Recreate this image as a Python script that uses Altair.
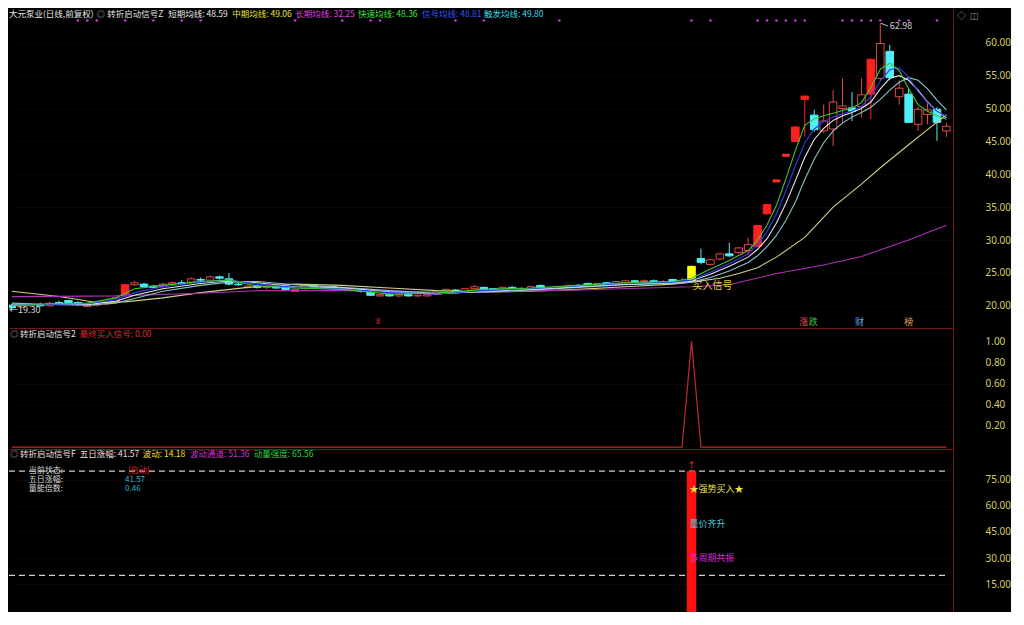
import altair as alt
import pandas as pd

FONT = "Noto Sans CJK SC"
NUMFONT = "Noto Sans"

# ---------------- data ----------------
idx = list(range(100))
opens = [20.1, 19.8, 20.0, 20.2, 20.0, 20.5, 20.8, 20.5, 19.9, 20.1,
         20.3, 20.6, 21.5, 23.2, 23.3, 23.0, 22.9, 23.3, 23.5, 23.6,
         24.0, 23.9, 24.4, 24.1, 23.3, 22.8, 23.0, 22.8, 22.9, 22.9,
         22.2, 22.6, 23.1, 22.8, 22.9, 22.6, 22.4, 22.5, 22.1, 21.5,
         21.7, 21.5, 21.7, 21.5, 21.5, 21.8, 22.2, 22.4, 22.1, 22.6,
         22.8, 22.6, 22.4, 22.8, 22.6, 22.4, 23.1, 22.6, 22.7, 22.8,
         23.1, 23.4, 23.1, 23.5, 23.4, 23.5, 23.8, 23.7, 23.8, 23.6,
         24.0, 23.5, 23.7, 27.2, 26.3, 27.1, 27.9, 28.1, 28.4, 29.0,
         34.0, 39.0, 42.9, 45.0, 51.4, 49.0, 46.6, 46.9, 50.0, 50.1,
         50.3, 52.2, 54.6, 58.7, 51.8, 52.2, 47.6, 49.1, 49.9, 46.6]
highs = [20.3, 20.2, 20.4, 20.5, 20.6, 20.8, 20.9, 20.7, 20.4, 20.5,
         20.7, 21.3, 23.3, 23.8, 23.5, 23.2, 23.5, 23.7, 23.9, 24.3,
         24.3, 24.6, 24.6, 25.0, 23.6, 23.1, 23.2, 23.0, 23.1, 23.0,
         22.6, 23.2, 23.2, 23.0, 23.0, 22.8, 22.7, 22.6, 22.2, 21.8,
         21.9, 21.8, 21.8, 21.7, 21.8, 22.3, 22.6, 22.5, 22.7, 23.2,
         22.9, 22.7, 22.9, 23.0, 22.8, 23.0, 23.2, 22.8, 23.0, 23.2,
         23.3, 23.5, 23.5, 23.6, 23.8, 23.9, 23.9, 24.0, 24.0, 23.9,
         24.1, 24.3, 26.1, 28.7, 27.1, 28.0, 29.6, 28.9, 30.4, 32.3,
         35.5, 39.0, 42.9, 47.3, 51.9, 49.8, 50.6, 52.8, 54.6, 52.5,
         54.6, 57.5, 62.98, 59.7, 54.3, 53.1, 50.3, 50.9, 50.2, 47.8]
lows = [19.3, 19.6, 19.8, 19.9, 19.9, 20.1, 20.3, 20.0, 19.8, 19.9,
        20.1, 20.5, 21.4, 23.0, 22.8, 22.7, 22.8, 23.1, 23.2, 23.5,
        23.7, 23.8, 24.0, 23.1, 23.0, 22.6, 22.6, 22.5, 22.6, 22.4,
        22.1, 22.5, 22.7, 22.6, 22.5, 22.3, 22.2, 22.0, 21.5, 21.4,
        21.4, 21.3, 21.4, 21.3, 21.4, 21.7, 22.1, 21.9, 22.0, 22.5,
        22.4, 22.3, 22.3, 22.5, 22.3, 22.3, 22.5, 22.4, 22.5, 22.7,
        22.8, 23.0, 23.0, 23.1, 23.3, 23.4, 23.6, 23.5, 23.5, 23.4,
        23.4, 23.4, 23.6, 26.3, 26.1, 26.9, 27.4, 27.9, 27.8, 28.9,
        33.9, 39.0, 42.9, 44.9, 45.7, 46.5, 46.3, 44.3, 47.9, 48.1,
        48.7, 48.4, 54.3, 54.3, 50.6, 47.8, 46.6, 47.6, 45.1, 45.7]
closes = [19.7, 20.0, 20.2, 20.0, 20.4, 20.3, 20.5, 20.2, 20.1, 20.3,
          20.6, 21.2, 23.2, 23.5, 22.9, 22.8, 23.3, 23.5, 23.4, 24.1,
          23.9, 24.4, 24.2, 23.3, 23.2, 23.0, 22.8, 22.9, 22.7, 22.5,
          22.5, 23.1, 22.8, 22.9, 22.6, 22.4, 22.5, 22.2, 21.6, 21.7,
          21.5, 21.7, 21.5, 21.6, 21.7, 22.2, 22.5, 22.0, 22.6, 22.9,
          22.5, 22.4, 22.8, 22.6, 22.5, 22.9, 22.6, 22.7, 22.9, 23.1,
          23.0, 23.1, 23.4, 23.2, 23.7, 23.8, 23.7, 23.8, 23.6, 23.7,
          23.5, 23.7, 26.0, 26.6, 27.0, 27.9, 27.6, 28.8, 29.3, 32.2,
          35.4, 39.0, 42.9, 47.2, 51.9, 46.8, 48.1, 51.0, 50.4, 49.6,
          52.1, 57.5, 59.9, 54.7, 53.1, 47.9, 49.9, 49.8, 47.9, 47.3]
solid_up = [12, 79, 80, 83, 84, 91]
signal_idx = 72

# moving-average lines (values read at key candles)
ma_idx = [0, 4, 8, 11, 13, 16, 20, 23, 26, 30, 35, 40, 45, 50, 55, 60, 65, 70,
          72, 74, 76, 78, 79, 80, 81, 82, 83, 84, 85, 86, 87, 88, 89, 90, 91,
          92, 93, 94, 95, 96, 97, 98, 99]
ma_fast = [20.0, 20.3, 20.4, 21.2, 22.6, 23.1, 23.7, 23.9, 23.0, 22.7, 22.5, 21.8,
           21.9, 22.5, 22.7, 23.1, 23.5, 23.7,
           24.2, 25.6, 26.9, 28.4, 30.0, 32.3, 35.3, 39.3, 43.6, 47.5, 48.4, 48.9,
           49.3, 49.7, 50.1, 50.9, 53.2, 56.0, 56.9, 55.8, 53.0, 50.6, 49.6, 48.9, 48.36]
ma_signal = [20.1, 20.2, 20.3, 20.9, 22.0, 22.9, 23.6, 23.9, 23.3, 22.8, 22.6, 22.0,
             21.8, 22.3, 22.6, 23.0, 23.4, 23.6,
             23.9, 25.1, 26.4, 27.9, 29.3, 31.3, 34.0, 37.5, 41.3, 44.8, 46.9, 48.0,
             48.7, 49.2, 49.6, 50.3, 51.8, 54.2, 55.9, 56.2, 54.8, 52.6, 50.9, 49.6, 48.81]
ma_short = [20.2, 20.2, 20.2, 20.7, 21.6, 22.6, 23.4, 23.8, 23.5, 22.9, 22.7, 22.1,
            21.8, 22.2, 22.5, 22.9, 23.3, 23.5,
            23.8, 24.8, 26.0, 27.4, 28.6, 30.2, 32.6, 35.6, 39.0, 42.6, 45.3, 47.0,
            48.2, 48.9, 49.4, 50.0, 51.0, 53.0, 54.6, 55.0, 54.3, 52.8, 51.0, 49.6, 48.59]
ma_trigger = [20.4, 20.2, 20.1, 20.4, 21.1, 22.2, 23.1, 23.6, 23.7, 23.2, 22.8, 22.3,
              21.9, 22.1, 22.4, 22.8, 23.2, 23.4,
              23.6, 24.3, 25.3, 26.6, 27.6, 29.0, 30.7, 33.0, 35.8, 39.2, 42.3, 44.8,
              46.6, 47.8, 48.7, 49.4, 50.2, 51.4, 52.8, 54.0, 54.7, 54.3, 53.0, 51.3, 49.80]
mid_idx = [0, 5, 9, 12, 16, 20, 25, 30, 35, 40, 45, 50, 55, 60, 65, 70, 72, 75, 77,
           79, 81, 84, 87, 90, 92, 95, 97, 99]
ma_mid = [22.2, 21.4, 20.5, 20.6, 21.2, 22.0, 22.8, 23.3, 23.1, 22.7, 22.3, 22.1, 22.2,
          22.5, 22.9, 23.3, 23.6, 24.2, 24.9, 25.8, 27.4, 30.4, 35.0, 38.5, 41.0, 44.5,
          46.8, 49.06]
long_idx = [0, 11, 20, 26, 35, 45, 50, 60, 72, 76, 81, 86, 90, 95, 99]
ma_long = [21.4, 21.5, 21.9, 22.3, 22.3, 22.1, 22.1, 22.4, 22.9, 23.2, 24.9, 26.2,
           27.5, 30.0, 32.25]

top_dots = [7, 8, 9, 12, 15, 18, 20, 30, 35, 38, 39, 47, 50, 58, 72, 74, 79, 80, 81,
            82, 83, 84, 88, 89, 90, 91, 92, 94, 95, 98]

final_signal = [0] * 72 + [1] + [0] * 27
strength_idx = [72]
strength_val = [80]
band_levels = [80, 20]

# ---------------- frames ----------------
def kind_of(i):
    if i == signal_idx:
        return "signal"
    if highs[i] == lows[i]:
        return "flat"
    if closes[i] < opens[i]:
        return "down"
    if i in solid_up:
        return "upsolid"
    return "up"

cdf = pd.DataFrame({"idx": idx, "open": opens, "high": highs, "low": lows,
                    "close": closes})
cdf["kind"] = [kind_of(i) for i in idx]

ma_specs = [("中期", mid_idx, ma_mid, "#cfcf8a"),
            ("长期", long_idx, ma_long, "#b030b8"),
            ("触发", ma_idx, ma_trigger, "#88c4cc"),
            ("短期", ma_idx, ma_short, "#e6e6e6"),
            ("信号", ma_idx, ma_signal, "#2c3cf0"),
            ("快速", ma_idx, ma_fast, "#3cc83c")]

# ---------------- styling ----------------
DR = "#7a1414"
LBL = "#d6cc68"
W = 944
H_MAIN, H_MID, H_BOT = 320, 121, 163

xscale = alt.Scale(domain=[-0.3, 99.7], nice=False, zero=False)
x_axis_sep = alt.Axis(domain=True, domainColor=DR, domainWidth=1, labels=False,
                      ticks=False, grid=False, title=None)

def make_X(field, show):
    return alt.X(field, type="quantitative", scale=xscale,
                 axis=x_axis_sep if show else None)

def y_axis(values, fmt=".2f"):
    return alt.Axis(orient="right", values=values, format=fmt, ticks=False,
                    domain=True, domainColor=DR, domainWidth=1, labelPadding=32,
                    grid=True, gridColor="#3a1212", gridDash=[1, 3], gridWidth=1,
                    labelColor=LBL, labelFont=NUMFONT, labelFontSize=10, title=None)

one = pd.DataFrame({"k": [0]})

def txt(s, px, py, color, size=8.5, align="left"):
    return alt.Chart(one).mark_text(text=s, align=align, baseline="middle",
                                    color=color, fontSize=size, font=FONT).encode(
        x=alt.value(px), y=alt.value(py))

S = W / 960.0

# ---------------- main panel ----------------
ym_scale = alt.Scale(domain=[16.62, 65.3], nice=False, zero=False)
ym_axis = y_axis([20, 25, 30, 35, 40, 45, 50, 55, 60])

def YM(field):
    return alt.Y(field, type="quantitative", scale=ym_scale, axis=ym_axis)

kinds = ["up", "upsolid", "down", "signal", "flat"]
wick_scale = alt.Scale(domain=kinds, range=["#e04848", "#ff2020", "#50eef8", "#ffff00", "#ff3030"])
fill_scale = alt.Scale(domain=kinds, range=["#000000", "#ff2020", "#50eef8", "#ffff00", "#ff3030"])
stroke_scale = alt.Scale(domain=kinds, range=["#e04848", "#ff2020", "#50eef8", "#ffff00", "#ff3030"])

base_c = alt.Chart(cdf)
wicks = base_c.mark_rule(strokeWidth=1, clip=True).encode(
    x=make_X("idx", True), y=YM("low"), y2="high",
    color=alt.Color("kind:N", scale=wick_scale, legend=None))
bodies = base_c.transform_filter("datum.kind != 'flat'").transform_calculate(
    x0="datum.idx - 0.4", x1="datum.idx + 0.4").mark_bar(strokeWidth=1, clip=True).encode(
    x=make_X("x0", True), x2="x1:Q", y=YM("open"), y2="close:Q",
    fill=alt.Fill("kind:N", scale=fill_scale, legend=None),
    stroke=alt.Stroke("kind:N", scale=stroke_scale, legend=None))
flats = base_c.transform_filter("datum.kind == 'flat'").transform_calculate(
    x0="datum.idx - 0.4", x1="datum.idx + 0.4").mark_rule(strokeWidth=3, clip=True).encode(
    x=make_X("x0", True), x2="x1:Q", y=YM("close"),
    color=alt.Color("kind:N", scale=wick_scale, legend=None))

ma_layers = []
for name, xs, vs, col in ma_specs:
    ma_layers.append(
        alt.Chart(pd.DataFrame({"idx": xs, "value": vs})).mark_line(
            strokeWidth=1.1, clip=True, color=col).encode(
            x=make_X("idx", True), y=YM("value")))

dots = alt.Chart(pd.DataFrame({"idx": top_dots})).mark_circle(
    size=7, color="#c040d0", opacity=1).encode(x=make_X("idx", True), y=alt.value(12.5))

def dtext(s, xi, yv, color, size=9, align="left"):
    return alt.Chart(pd.DataFrame({"idx": [xi], "v": [yv]})).mark_text(
        text=s, align=align, baseline="middle", color=color, fontSize=size,
        font=FONT).encode(x=make_X("idx", True), y=YM("v"))

peak_hook = alt.Chart(pd.DataFrame({"a": [92.05], "b": [92.8], "ya": [62.98], "yb": [62.55]})).mark_rule(
    color="#c8c8c8", strokeWidth=1).encode(x=make_X("a", True), x2="b:Q", y=YM("ya"), y2="yb:Q")

main_layers = [wicks, bodies, flats] + ma_layers + [dots, peak_hook,
               dtext("←19.30", -0.3, 19.3, "#d8d8d8", 9),
               dtext("62.98", 93.0, 62.5, "#d0d0d0", 9),
               dtext("买入信号", 72.1, 23.05, "#e8cf50", 10),
               dtext("8", 38.8, 17.5, "#e03030", 8, "center"),
               dtext("涨", 83.9, 17.5, "#e05050", 9, "center"),
               dtext("跌", 84.9, 17.5, "#40c040", 9, "center"),
               dtext("财", 89.8, 17.5, "#60a8e8", 9, "center"),
               dtext("榜", 95.0, 17.5, "#e0a060", 9, "center"),
               txt("大元泵业(日线,前复权)", 0, 6, "#e8e8e8"),
               txt("◎", 88 * S + 1, 6, "#9a9a9a"),
               txt("转折启动信号Z", 100 * S, 6, "#e0e0e0"),
               txt("短期均线: 48.59", 162 * S, 6, "#e8e8e8"),
               txt("中期均线: 49.06", 227 * S, 6, "#e8e040"),
               txt("长期均线: 32.25", 291 * S, 6, "#e040e0"),
               txt("快速均线: 48.36", 355 * S, 6, "#40e040"),
               txt("信号均线: 48.81", 420 * S, 6, "#3454ff"),
               txt("触发均线: 49.80", 483 * S, 6, "#40d8e8"),
               txt("◇", 948, 8, "#909090", 9),
               txt("◫", 961, 8, "#909090", 9)]
main = alt.layer(*main_layers).properties(width=W, height=H_MAIN)

# ---------------- middle panel ----------------
ymid_scale = alt.Scale(domain=[-0.018, 1.127], nice=False, zero=False)
ymid_axis = y_axis([0.2, 0.4, 0.6, 0.8, 1.0])
sig_line = alt.Chart(pd.DataFrame({"idx": idx, "v": final_signal})).mark_line(
    color="#c02a2a", strokeWidth=1.2, clip=True).encode(
    x=make_X("idx", True), y=alt.Y("v:Q", scale=ymid_scale, axis=ymid_axis))
mid = alt.layer(
    sig_line,
    txt("◎", 1, 5.5, "#9a9a9a"),
    txt("转折启动信号2", 11, 5.5, "#e0e0e0"),
    txt("最终买入信号: 0.00", 72 * S, 5.5, "#d03030"),
).properties(width=W, height=H_MID)

# ---------------- bottom panel ----------------
yb_scale = alt.Scale(domain=[-1.1, 92.8], nice=False, zero=False)
yb_axis = y_axis([15, 30, 45, 60, 75])

def YB(field):
    return alt.Y(field, type="quantitative", scale=yb_scale, axis=yb_axis)

bar = alt.Chart(pd.DataFrame({"idx": strength_idx, "v": strength_val})).transform_calculate(
    x0="datum.idx - 0.5", x1="datum.idx + 0.5").mark_bar(color="#ff1010", clip=True).encode(
    x=make_X("x0", False), x2="x1:Q", y=YB("v"), y2=alt.value(H_BOT))
bands = alt.Chart(pd.DataFrame({"lv": band_levels, "a": [-0.3, -0.3], "b": [99.2, 99.2]})).mark_rule(
    color="#cfcfcf", strokeDash=[6, 4], strokeWidth=1.2).encode(
    x=make_X("a", False), x2="b:Q", y=YB("lv"))

def btext(s, xi, yv, color, size=9, align="left"):
    return alt.Chart(pd.DataFrame({"idx": [xi], "v": [yv]})).mark_text(
        text=s, align=align, baseline="middle", color=color, fontSize=size,
        font=FONT).encode(x=make_X("idx", False), y=YB("v"))

bot = alt.layer(
    bands, bar,
    btext("↑", 72, 83.2, "#ff2020", 9, "center"),
    btext("★强势买入★", 71.8, 70, "#f0e040", 9),
    btext("量价齐升", 71.8, 49.5, "#40c8d8", 9),
    btext("多周期共振", 71.8, 30, "#d828d8", 9),
    txt("◎", 1, 5, "#9a9a9a"),
    txt("转折启动信号F", 11, 5, "#e0e0e0"),
    txt("五日涨幅: 41.57", 72 * S, 5, "#e0e0e0"),
    txt("波动: 14.18", 136 * S, 5, "#e8e040"),
    txt("波动通道: 51.36", 184 * S, 5, "#d030d0"),
    txt("动量强度: 65.56", 249 * S, 5, "#40c840"),
    txt("当前状态:", 20 * S, 22, "#d8d8d8", 8),
    txt("[启动]", 121 * S, 22, "#e02020", 8),
    txt("五日涨幅:", 20 * S, 31, "#d8d8d8", 8),
    txt("41.57", 118 * S, 31, "#3eb0c0", 8),
    txt("量能倍数:", 20 * S, 40, "#d8d8d8", 8),
    txt("0.46", 118 * S, 40, "#3eb0c0", 8),
).properties(width=W, height=H_BOT)

chart = alt.vconcat(main, mid, bot, spacing=0, background="#000000",
                    padding={"left": 0, "right": 0, "top": 0, "bottom": 0}).configure_view(
    stroke=None)

chart.save("out.html", embed_options={"renderer": "svg", "actions": False})
